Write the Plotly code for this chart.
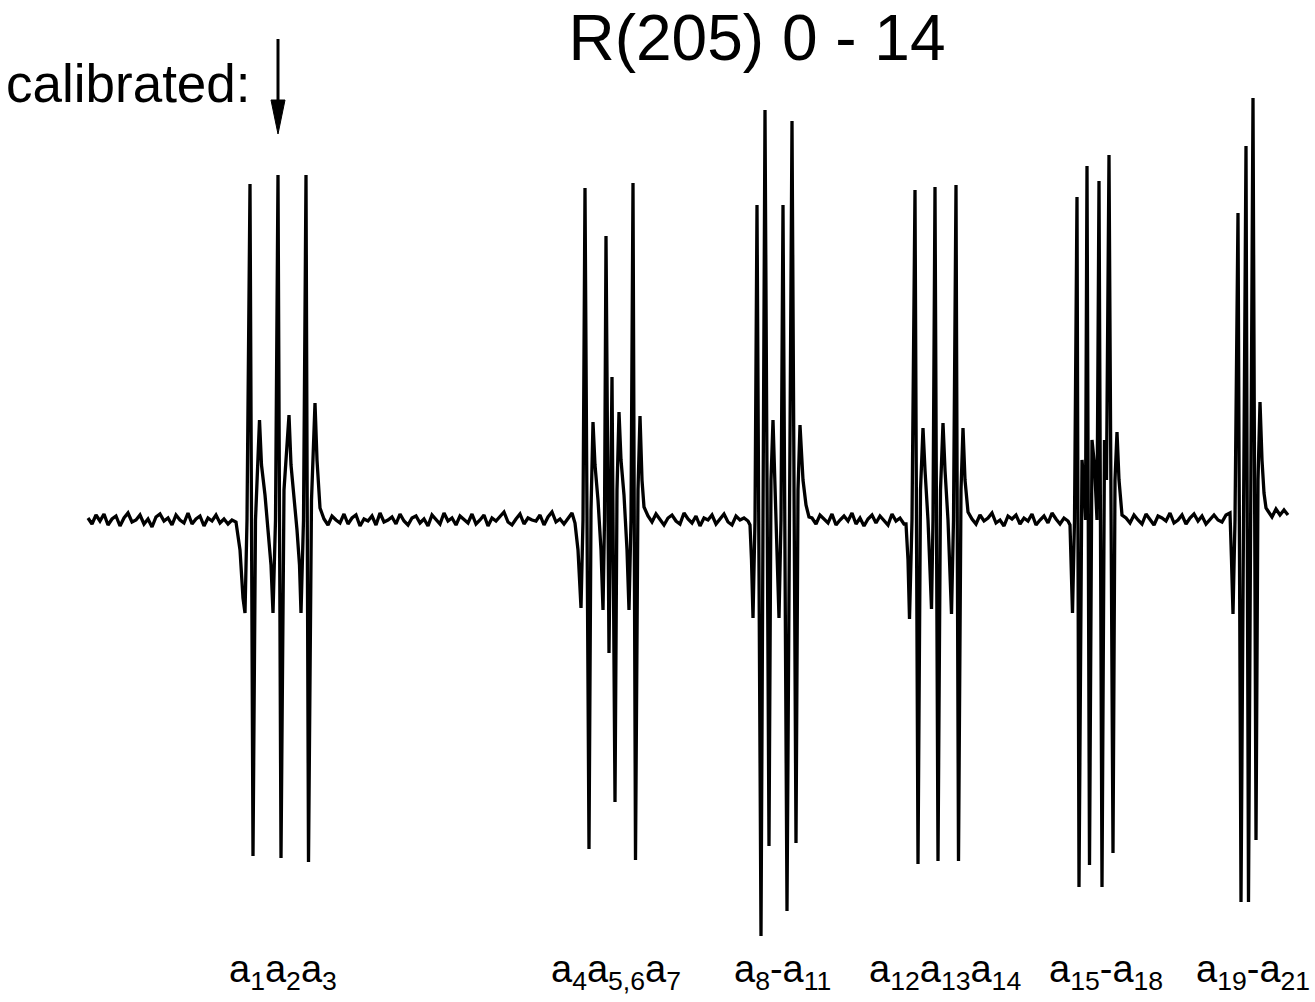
import plotly.graph_objects as go

# ---------------- data (relative frequency, arb. units ; signal, arb. units) -------------
# baseline stretches between the line groups
seg0_x = [88,92,96,100,104,108,112,116,120,124,128,132,136,140,144,148,152,156,160,164,168,
          172,176,180,184,188,192,196,200,204,208,212,216,220,224,228,232]
seg0_y = [2,-4,5,-1,6,-5,1,4,-6,2,7,-2,0,5,-4,1,-7,3,6,-1,2,-5,5,0,-3,7,-4,1,4,-6,2,-1,5,-3,1,-4,0]

# group a1 a2 a3
c1_x = [236,240,243,245,247,250,253,255.5,259.5,261.5,265,268,271,273,275.5,278,281,284,289,291,
        294,297,299.5,301,303.5,306,308.5,311.5,315,317,320]
c1_y = [-2,-30,-78,-93,0,336,-336,0,100,55,25,-10,-45,-93,0,345,-338,30,105,55,
        25,-10,-45,-93,0,345,-342,20,117,60,12]

seg1_x = [324,328,332,336,340,344,348,352,356,360,364,368,372,376,380,384,388,392,396,400,404,
          408,412,416,420,424,428,432,436,440,444,448,452,456,460,464,468,472,476,480,484,488,
          492,496,500,504,508,512,516,520,524,528,532,536,540,544,548,552,556,560,564,568,572]
seg1_y = [1,-5,4,0,-3,6,-4,2,5,-6,1,-1,4,-5,7,-2,0,3,-4,6,-1,-5,2,4,-3,1,-6,5,0,-4,7,-1,2,-5,
          4,1,-3,6,-4,0,5,-6,2,-1,4,8,-2,-5,1,6,-4,2,0,-1,5,-5,3,8,-2,1,-4,2,7]

# group a4 a5,6 a7
c2_x = [575,578,581,583,585,589,591,593,595,598,601,603,604.5,606,609,612,615,617,619,621,
        624,627,629,631,633,635.5,638,640,642,644]
c2_y = [-3,-30,-88,0,332,-329,10,98,55,20,-30,-90,0,284,-133,143,-282,30,108,60,
        25,-30,-90,0,337,-340,30,104,40,13]

seg2_x = [648,652,656,660,664,668,672,676,680,684,688,692,696,700,704,708,712,716,720,724,
          728,732,736,740,744,748]
seg2_y = [4,-2,6,0,-5,2,5,-1,-4,7,1,-3,4,-6,2,0,5,-4,1,6,-2,-5,4,0,2,-1]

# group a8 - a11
c3_x = [750,751.5,753,755,757,761,763,765,769,771,773,775,777,779,781,783,787,789.5,792,796,
        798,800,803,806,809]
c3_y = [-5,-40,-98,0,315,-416,0,410,-326,40,100,30,-40,-98,0,315,-391,0,399,-323,
        30,95,40,15,3]

seg3_x = [812,816,820,824,828,832,836,840,844,848,852,856,860,864,868,872,876,880,884,888,
          892,896,900,904]
seg3_y = [2,-4,5,1,-3,6,-5,0,4,-1,7,-4,2,-6,1,5,-3,4,0,-5,6,-1,2,-4]

# group a12 a13 a14
c4_x = [906,908,909.5,912,915,918,920.5,923,925,928,930,931.5,933,935,938,940.5,943,945,948,950,
        951.5,953.5,956,958.5,961,963,965,968]
c4_y = [-4,-40,-99,0,330,-344,30,92,50,0,-50,-89,0,333,-341,30,97,50,0,-60,
        -94,0,335,-341,30,92,40,8]

seg4_x = [972,976,980,984,988,992,996,1000,1004,1008,1012,1016,1020,1024,1028,1032,1036,1040,
          1044,1048,1052,1056,1060,1064,1068]
seg4_y = [1,-4,5,-1,2,7,-3,0,-6,4,1,5,-4,2,-1,6,-5,0,4,-3,7,1,-4,2,-1]

# group a15 - a18
c5_x = [1070,1071.5,1072.5,1074.5,1077,1079,1082,1084,1085.5,1087,1089.5,1092,1094.5,1097,1099,
        1102,1104.5,1106.5,1109,1113,1115,1117,1119,1122]
c5_y = [-5,-50,-93,0,323,-367,60,35,0,354,-345,80,55,0,339,
        -367,80,40,365,-333,40,88,40,5]

seg5_x = [1126,1130,1134,1138,1142,1146,1150,1154,1158,1162,1166,1170,1174,1178,1182,1186,1190,
          1194,1198,1202,1206,1210,1214,1218,1222,1226,1230]
seg5_y = [2,-3,5,0,-4,6,1,-5,4,2,-1,7,-3,0,5,-4,2,6,-1,4,-4,1,5,0,-2,5,7]

# group a19 - a21
c6_x = [1231.5,1233,1235,1238,1241,1243.5,1246,1248.5,1250.5,1253,1256,1258,1260,1262,1264,1266]
c6_y = [-40,-94,0,307,-382,0,374,-382,0,422,-320,40,118,60,27,12]

seg6_x = [1268,1272,1276,1280,1284,1288]
seg6_y = [9,3,11,5,10,5]

freq = seg0_x + c1_x + seg1_x + c2_x + seg2_x + c3_x + seg3_x + c4_x + seg4_x + c5_x + seg5_x + c6_x + seg6_x
signal = seg0_y + c1_y + seg1_y + c2_y + seg2_y + c3_y + seg3_y + c4_y + seg4_y + c5_y + seg5_y + c6_y + seg6_y

# group labels
label_freq = [283, 616, 782, 945, 1106, 1253]
label_text = ["a<sub>1</sub>a<sub>2</sub>a<sub>3</sub>",
              "a<sub>4</sub>a<sub>5,6</sub>a<sub>7</sub>",
              "a<sub>8</sub>-a<sub>11</sub>",
              "a<sub>12</sub>a<sub>13</sub>a<sub>14</sub>",
              "a<sub>15</sub>-a<sub>18</sub>",
              "a<sub>19</sub>-a<sub>21</sub>"]

title_text = "R(205) 0 - 14"
calib_text = "calibrated:"
calib_freq = 278  # calibrated line position (a2)

# ---------------- figure ----------------
FONT = "Liberation Sans, Arial, Helvetica, sans-serif"
fig = go.Figure()
fig.add_trace(go.Scatter(x=freq, y=signal, mode="lines",
                         line=dict(color="black", width=3.3), hoverinfo="skip",
                         showlegend=False))

annotations = []
for fx, txt in zip(label_freq, label_text):
    annotations.append(dict(x=fx, y=-452, xref="x", yref="y", text=txt, showarrow=False,
                            xanchor="center", yanchor="middle",
                            font=dict(family=FONT, size=38, color="black")))
annotations.append(dict(x=253, y=437, xref="x", yref="y", text=calib_text, showarrow=False,
                        xanchor="right", yanchor="middle",
                        font=dict(family=FONT, size=53, color="black")))

shapes = [
    dict(type="line", xref="x", yref="y", x0=calib_freq, x1=calib_freq, y0=481, y1=414,
         line=dict(color="black", width=3)),
    dict(type="path", xref="x", yref="y",
         path=f"M {calib_freq-7} 420 L {calib_freq+7} 420 L {calib_freq} 386 Z",
         fillcolor="black", line=dict(color="black", width=1)),
]

fig.update_layout(
    width=1315, height=1002,
    margin=dict(l=0, r=0, t=0, b=0),
    paper_bgcolor="white", plot_bgcolor="white",
    title=dict(text=title_text, x=757/1315, xanchor="center", y=1-38/1002, yanchor="middle",
               font=dict(family=FONT, size=64, color="black")),
    xaxis=dict(range=[0, 1315], visible=False, fixedrange=True),
    yaxis=dict(range=[-482, 520], visible=False, fixedrange=True),
    annotations=annotations,
    shapes=shapes,
)

fig.write_html("out.html")
